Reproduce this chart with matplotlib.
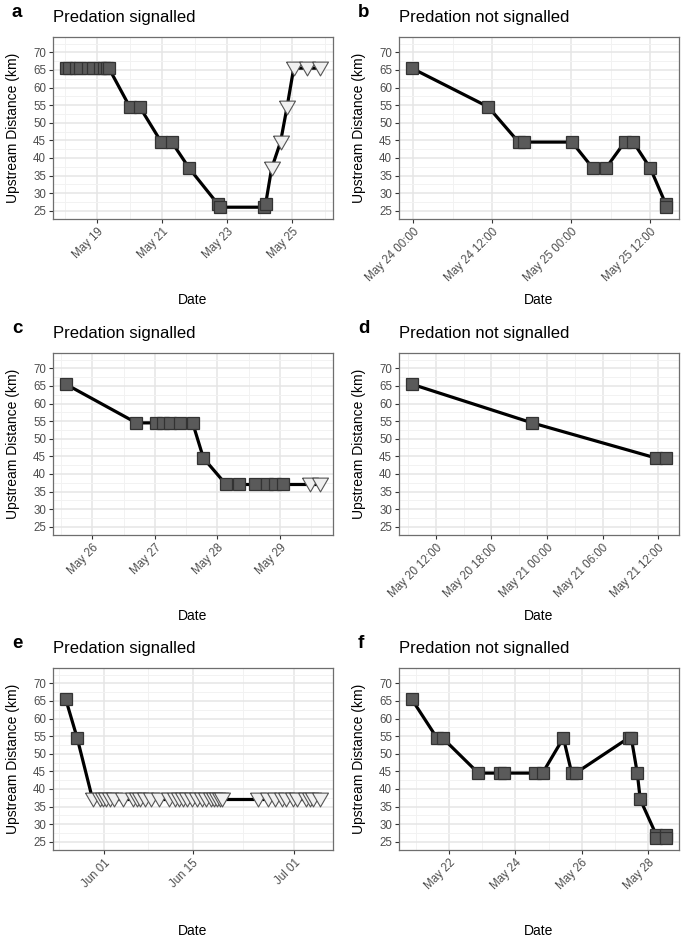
import numpy as np
import pandas as pd
import matplotlib
matplotlib.use('Agg')
import matplotlib.pyplot as plt
import matplotlib.dates as mdates
from matplotlib.ticker import FixedLocator

plt.rcParams['font.family'] = ['Liberation Sans', 'DejaVu Sans']

YEAR = '2016'

# state: 0 = tag in fish (square), 1 = predation signalled (triangle)
a_time = ['05-18 00:40', '05-18 03:13', '05-18 08:21', '05-18 11:17', '05-18 17:10',
          '05-18 20:50', '05-19 02:00', '05-19 04:55', '05-19 07:08', '05-19 08:35',
          '05-20 00:00', '05-20 07:22', '05-20 23:18', '05-21 07:06', '05-21 20:05',
          '05-22 16:53', '05-22 18:39', '05-24 03:30', '05-24 04:30',
          '05-24 08:51', '05-24 15:27', '05-24 20:18', '05-25 01:13', '05-25 11:01',
          '05-25 20:51']
a_dist = [65.5, 65.5, 65.5, 65.5, 65.5, 65.5, 65.5, 65.5, 65.5, 65.5,
          54.5, 54.5, 44.5, 44.5, 37, 27, 26, 26, 27,
          37, 44.5, 54.5, 65.5, 65.5, 65.5]
a_state = [0, 0, 0, 0, 0, 0, 0, 0, 0, 0, 0, 0, 0, 0, 0, 0, 0, 0, 0,
           1, 1, 1, 1, 1, 1]

b_time = ['05-23 23:48', '05-24 11:24', '05-24 16:00', '05-24 16:48', '05-25 00:06',
          '05-25 03:18', '05-25 05:12', '05-25 08:06', '05-25 09:24', '05-25 12:00',
          '05-25 14:18', '05-25 14:24']
b_dist = [65.5, 54.5, 44.5, 44.5, 44.5, 37, 37, 44.5, 44.5, 37, 27, 26]
b_state = [0, 0, 0, 0, 0, 0, 0, 0, 0, 0, 0, 0]

c_time = ['05-25 13:48', '05-26 16:55', '05-27 00:35', '05-27 03:14', '05-27 05:56',
          '05-27 09:45', '05-27 14:31', '05-27 18:39', '05-28 03:20', '05-28 08:24',
          '05-28 14:24', '05-28 18:53', '05-28 22:03', '05-29 01:13',
          '05-29 11:28', '05-29 15:30']
c_dist = [65.5, 54.5, 54.5, 54.5, 54.5, 54.5, 54.5, 44.5, 37, 37, 37, 37, 37, 37, 37, 37]
c_state = [0, 0, 0, 0, 0, 0, 0, 0, 0, 0, 0, 0, 0, 0, 1, 1]

d_time = ['05-20 09:25', '05-20 22:24', '05-21 11:47', '05-21 12:52']
d_dist = [65.5, 54.5, 44.5, 44.5]
d_state = [0, 0, 0, 0]

e_time = ['05-26 00:00', '05-27 19:12',
          '05-30 05:46', '05-31 07:55', '05-31 22:48', '06-01 10:05', '06-02 01:12',
          '06-02 16:05', '06-04 01:41', '06-05 15:07', '06-06 06:14', '06-06 17:31',
          '06-07 12:14', '06-08 10:34', '06-09 16:34', '06-11 06:00', '06-12 04:34',
          '06-12 19:26', '06-13 10:34', '06-14 01:26', '06-14 20:10', '06-15 14:53',
          '06-16 09:36', '06-17 04:19', '06-17 23:02', '06-18 10:19', '06-18 21:36',
          '06-19 08:38', '06-19 16:05',
          '06-25 06:58', '06-26 20:24', '06-27 22:34', '06-29 00:58', '06-29 15:50',
          '06-30 18:00', '07-01 12:43', '07-02 22:19', '07-03 13:26', '07-04 00:43',
          '07-05 02:53']
e_dist = [65.5, 54.5,
          37, 37, 37, 37, 37, 37, 37, 37, 37, 37, 37, 37, 37, 37, 37, 37, 37, 37, 37,
          37, 37, 37, 37, 37, 37, 37, 37,
          37, 37, 37, 37, 37, 37, 37, 37, 37, 37, 37]
e_state = [0, 0,
           1, 1, 1, 1, 1, 1, 1, 1, 1, 1, 1, 1, 1, 1, 1, 1, 1, 1, 1, 1, 1, 1, 1, 1, 1,
           1, 1,
           1, 1, 1, 1, 1, 1, 1, 1, 1, 1, 1]

f_time = ['05-20 20:53', '05-21 15:07', '05-21 19:12', '05-22 21:07', '05-23 13:12',
          '05-23 16:05', '05-24 13:55', '05-24 19:41', '05-25 10:48', '05-25 16:48',
          '05-25 19:41', '05-27 10:05', '05-27 12:00', '05-27 16:19', '05-27 18:29',
          '05-28 06:00', '05-28 06:10', '05-28 13:12', '05-28 13:20']
f_dist = [65.5, 54.5, 54.5, 44.5, 44.5, 44.5, 44.5, 44.5, 54.5, 44.5, 44.5,
          54.5, 54.5, 44.5, 37, 27, 26, 27, 26]
f_state = [0, 0, 0, 0, 0, 0, 0, 0, 0, 0, 0, 0, 0, 0, 0, 0, 0, 0, 0]

a_ticks = ['05-19', '05-21', '05-23', '05-25']
b_ticks = ['05-24 00:00', '05-24 12:00', '05-25 00:00', '05-25 12:00']
c_ticks = ['05-26', '05-27', '05-28', '05-29']
d_ticks = ['05-20 12:00', '05-20 18:00', '05-21 00:00', '05-21 06:00', '05-21 12:00']
e_ticks = ['06-01', '06-15', '07-01']
f_ticks = ['05-22', '05-24', '05-26', '05-28']

y_ticks = [25, 30, 35, 40, 45, 50, 55, 60, 65, 70]

TITLE_SIG = 'Predation signalled'
TITLE_NOT = 'Predation not signalled'


def to_num(strings):
    return mdates.date2num(pd.to_datetime([YEAR + '-' + s for s in strings]).to_pydatetime())


# downward triangle, roughly equilateral
tri = [(-1, 0.8), (1, 0.8), (0, -0.93), (-1, 0.8)]


def panel(ax, times, dist, state, ticks, fmt, letter, title):
    x = to_num(times)
    y = np.array(dist)
    st = np.array(state)
    ax.plot(x, y, color='black', lw=2.3, zorder=3, solid_capstyle='butt')
    ax.plot(x[st == 0], y[st == 0], ls='none', marker='s', ms=8.2,
            mfc='#5a5a5a', mec='#333333', mew=0.9, zorder=4)
    ax.plot(x[st == 1], y[st == 1], ls='none', marker=tri, ms=11.5,
            mfc='#f0f0f0', mec='#555555', mew=0.8, zorder=5)

    pad = 0.05 * (x.max() - x.min())
    ax.set_xlim(x.min() - pad, x.max() + pad)
    ax.set_ylim(22.65, 74.35)

    tk = to_num(ticks)
    mids = list((tk[1:] + tk[:-1]) / 2)
    mids = [tk[0] - (tk[1] - tk[0]) / 2] + mids + [tk[-1] + (tk[-1] - tk[-2]) / 2]
    ax.xaxis.set_major_locator(FixedLocator(tk))
    ax.xaxis.set_minor_locator(FixedLocator(mids))
    ax.xaxis.set_major_formatter(mdates.DateFormatter(fmt))
    ax.yaxis.set_major_locator(FixedLocator(y_ticks))
    ax.yaxis.set_minor_locator(FixedLocator([t + 2.5 for t in [20] + y_ticks]))

    ax.grid(which='major', color='#e5e5e5', lw=1.1, zorder=0)
    ax.grid(which='minor', color='#f2f2f2', lw=0.7, zorder=0)
    ax.set_axisbelow(True)
    for s in ax.spines.values():
        s.set_color('#6e6e6e')
        s.set_linewidth(0.9)
    ax.tick_params(which='major', length=3, width=0.8, color='#333333',
                   labelsize=8.3, labelcolor='#4d4d4d', pad=2)
    ax.tick_params(which='minor', length=0)
    for lab in ax.get_xticklabels():
        lab.set_rotation(45)
        lab.set_ha('right')
        lab.set_va('top')
        lab.set_rotation_mode('anchor')

    ax.set_ylabel('Upstream Distance (km)', fontsize=10)
    ax.yaxis.set_label_coords(-0.142, 0.5)
    ax.yaxis.label.set_va('center')
    ax.set_xlabel('Date', fontsize=10)
    ax.xaxis.set_label_coords(0.5, -0.445)
    ax.xaxis.label.set_va('center')

    ax.set_title(title, loc='left', fontsize=12, pad=11)
    ax.annotate(letter, xy=(0, 1), xycoords='axes fraction',
                xytext=(-41, 20), textcoords='offset pixels',
                fontsize=13.5, fontweight='bold', ha='left', va='baseline')


fig = plt.figure(figsize=(6.85, 9.42), dpi=100)
W, H = 685.0, 942.0
lefts = [53, 399]
tops = [37, 353, 668]
pw, ph = 280, 182

ax_a = fig.add_axes([lefts[0] / W, 1 - (tops[0] + ph) / H, pw / W, ph / H])
ax_b = fig.add_axes([lefts[1] / W, 1 - (tops[0] + ph) / H, pw / W, ph / H])
ax_c = fig.add_axes([lefts[0] / W, 1 - (tops[1] + ph) / H, pw / W, ph / H])
ax_d = fig.add_axes([lefts[1] / W, 1 - (tops[1] + ph) / H, pw / W, ph / H])
ax_e = fig.add_axes([lefts[0] / W, 1 - (tops[2] + ph) / H, pw / W, ph / H])
ax_f = fig.add_axes([lefts[1] / W, 1 - (tops[2] + ph) / H, pw / W, ph / H])

panel(ax_a, a_time, a_dist, a_state, a_ticks, '%b %d', 'a', TITLE_SIG)
panel(ax_b, b_time, b_dist, b_state, b_ticks, '%b %d %H:%M', 'b', TITLE_NOT)
panel(ax_c, c_time, c_dist, c_state, c_ticks, '%b %d', 'c', TITLE_SIG)
panel(ax_d, d_time, d_dist, d_state, d_ticks, '%b %d %H:%M', 'd', TITLE_NOT)
panel(ax_e, e_time, e_dist, e_state, e_ticks, '%b %d', 'e', TITLE_SIG)
panel(ax_f, f_time, f_dist, f_state, f_ticks, '%b %d', 'f', TITLE_NOT)

fig.savefig('out.png', dpi=100, facecolor='white')
